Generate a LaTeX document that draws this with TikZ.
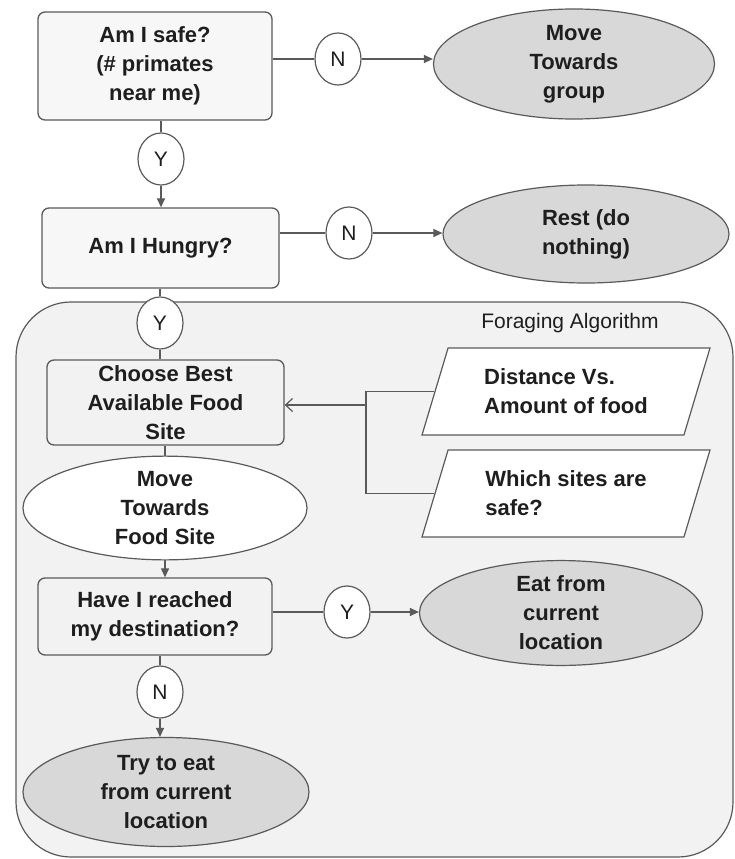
\documentclass[tikz,border=0pt]{standalone}
\usepackage{fontspec}
\setmainfont{Liberation Sans}
\usetikzlibrary{shapes.geometric,arrows.meta}
\definecolor{lin}{HTML}{5A5A5A}
\definecolor{boxfill}{HTML}{F7F7F7}
\definecolor{bgfill}{HTML}{F2F2F2}
\definecolor{darkfill}{HTML}{D8D8D8}
\definecolor{txt}{HTML}{1E1E1E}
\begin{document}
\begin{tikzpicture}[x=1pt,y=-1pt,
  every node/.style={text=txt},
  mainfont/.style={font=\bfseries\fontsize{22}{29}\selectfont},
  box/.style={mainfont, draw=lin, fill=boxfill, rounded corners=7pt, line width=1.3pt, align=center, inner sep=0pt},
  yn/.style={ellipse, draw=lin, fill=white, line width=1.2pt, minimum width=46pt, minimum height=52pt, inner sep=0pt, font=\fontsize{21}{25}\selectfont},
  grayell/.style={mainfont, ellipse, draw=lin, fill=darkfill, line width=1.2pt, align=center, inner sep=0pt},
  whiteell/.style={mainfont, ellipse, draw=lin, fill=white, line width=1.2pt, align=center, inner sep=0pt},
  para/.style={mainfont, trapezium, trapezium left angle=60, trapezium right angle=120, trapezium stretches body, draw=lin, fill=white, line width=1.2pt, align=left, inner sep=0pt, minimum width=288pt, minimum height=87pt},
  conn/.style={draw=lin, line width=1.2pt},
  arr/.style={conn, -{Triangle[length=9pt,width=8pt]}},
  openarr/.style={conn, -{Straight Barb[length=7pt,width=13pt]}}
]
\useasboundingbox (0,0) rectangle (735,859);
\fill[white] (0,0) rectangle (735,859);

% container
\node[draw=lin, fill=bgfill, line width=1.2pt, rounded corners=55pt, minimum width=717pt, minimum height=555pt, inner sep=0pt] (forage) at (374.5,579.5) {};
\node[font=\fontsize{21}{25}\selectfont] (flabel) at (570,323) {Foraging Algorithm};

% top nodes
\node[box, minimum width=234pt, minimum height=108pt] (safe) at (155,66) {Am I safe?\\(\# primates\\near me)};
\node[yn] (n1) at (338,59) {N};
\node[grayell, minimum width=281pt, minimum height=100pt] (group) at (574,64) {Move\\Towards\\group};
\node[yn] (y1) at (161,159) {Y};
\node[box, minimum width=237pt, minimum height=80pt] (hungry) at (160.5,248) {Am I Hungry?};
\node[yn] (n2) at (349,233) {N};
\node[grayell, minimum width=286pt, minimum height=98pt] (rest) at (586,234) {Rest (do\\nothing)};

% foraging
\node[yn] (y2) at (160,323) {Y};
\node[box, minimum width=237pt, minimum height=85pt, fill=bgfill] (choose) at (165.5,402.5) {Choose Best\\Available Food\\Site};
\node[para] (dist) at (566,391.5) {Distance Vs.\\Amount of food};
\node[para] (which) at (566,493.5) {Which sites are\\safe?};
\node[whiteell, minimum width=284pt, minimum height=93pt] (movefood) at (165,508) {Move\\Towards\\Food Site};
\node[box, minimum width=234pt, minimum height=77pt, fill=bgfill] (reached) at (155,616.5) {Have I reached\\my destination?};
\node[yn] (y3) at (347,612) {Y};
\node[grayell, minimum width=283pt, minimum height=93pt] (eat) at (561,613) {Eat from\\current\\location};
\node[yn] (n3) at (160,692) {N};
\node[grayell, minimum width=286pt, minimum height=109pt] (try) at (166,792) {Try to eat\\from current\\location};

\coordinate (j) at (366,405);

% connectors
\draw[conn] (safe.east |- n1) -- (n1);
\draw[arr] (n1) -- (group.west |- n1);
\draw[conn] (y1 |- safe.south) -- (y1);
\draw[arr] (y1) -- (y1 |- hungry.north);
\draw[conn] (hungry.east |- n2) -- (n2);
\draw[arr] (n2) -- (rest.west |- n2);
\draw[conn] (y2 |- hungry.south) -- (y2);
\draw[conn] (y2) -- (y2 |- choose.north);
\draw[conn] (dist.west) -- (dist.west -| j) -- (which.west -| j) -- (which.west);
\draw[openarr] (j) -- (j -| choose.east);
\draw[conn] (movefood |- choose.south) -- (movefood.north);
\draw[arr] (movefood.south) -- (movefood |- reached.north);
\draw[conn] (reached.east |- y3) -- (y3);
\draw[arr] (y3) -- (eat.west |- y3);
\draw[conn] (n3 |- reached.south) -- (n3);
\draw[arr] (n3) -- (n3 |- try.north);
\end{tikzpicture}
\end{document}
